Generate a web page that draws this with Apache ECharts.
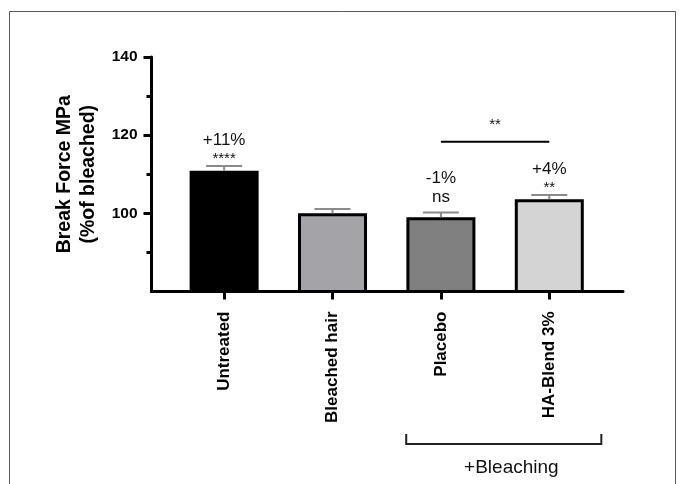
<!DOCTYPE html>
<html>
<head>
<meta charset="utf-8">
<script src="https://cdn.jsdelivr.net/npm/echarts@6/dist/echarts.min.js"></script>
<style>
html,body{margin:0;padding:0;background:#fff;}
#chart{width:683px;height:484px;}
</style>
</head>
<body>
<div id="chart"></div>
<script>
// ---- data ----
const categories = ['Untreated', 'Bleached hair', 'Placebo', 'HA-Blend 3%'];
const means = [110.9, 100.0, 99.0, 103.6];
const errors = [1.2, 1.1, 1.2, 1.1];
const barColors = ['#000000', '#a3a3a8', '#808080', '#d4d4d4'];
const changeLabels = ['+11%', '', '-1%', '+4%'];
const sigLabels = ['****', '', 'ns', '**'];
const yTickValues = [100, 120, 140];
const comparisonPair = [2, 3];
const comparisonLevel = 118.3;
const comparisonLabel = '**';
const groupSpan = [1.68, 3.48];
const groupLabelAt = 2.65;
const groupLabel = '+Bleaching';
const yTitle = 'Break Force MPa\n(%of bleached)';

const FONT = '"Liberation Sans", Arial, sans-serif';
const chart = echarts.init(document.getElementById('chart'));

const option = {
  animation: false,
  graphic: [{
    type: 'rect', silent: true,
    shape: { x: 9.5, y: 11.5, width: 666, height: 490 },
    style: { fill: 'none', stroke: '#5a5a5a', lineWidth: 1 }
  }],
  grid: { left: 151.5, right: 60, top: 57, bottom: 192.5 },
  xAxis: {
    type: 'value', min: -0.67, max: 3.68,
    splitLine: { show: false },
    axisLine: { show: true, onZero: false, lineStyle: { color: '#000', width: 3 } },
    axisTick: { show: true, customValues: [0, 1, 2, 3], length: 8, lineStyle: { color: '#000', width: 3 } },
    axisLabel: {
      customValues: [0, 1, 2, 3],
      formatter: v => categories[Math.round(v)],
      rotate: 90, margin: 20, fontSize: 17, fontWeight: 'bold', color: '#000', fontFamily: FONT
    }
  },
  yAxis: {
    type: 'value', min: 80, max: 140, interval: 20,
    splitLine: { show: false },
    axisLine: { show: true, onZero: false, lineStyle: { color: '#000', width: 3 } },
    axisTick: { show: true, customValues: yTickValues, length: 8, lineStyle: { color: '#000', width: 3 } },
    minorTick: { show: true, splitNumber: 2, length: 5, lineStyle: { color: '#000', width: 3 } },
    axisLabel: { customValues: yTickValues, margin: 14, fontSize: 15.5, fontWeight: 'bold', color: '#000', fontFamily: FONT },
    name: yTitle, nameLocation: 'middle', nameGap: 44, nameRotate: 90,
    nameTextStyle: { fontSize: 19.5, fontWeight: 'bold', color: '#000', lineHeight: 24, fontFamily: FONT }
  },
  series: [
    {
      type: 'bar',
      barWidth: 69,
      data: means.map((m, i) => ({ value: [i, m], itemStyle: { color: barColors[i] } })),
      itemStyle: { borderColor: '#000', borderWidth: 3 },
      z: 2
    },
    {
      type: 'custom', clip: false, z: 3,
      data: means.map((m, i) => [i, m, errors[i]]),
      renderItem: (params, api) => {
        const x = api.value(0), m = api.value(1), e = api.value(2);
        const p0 = api.coord([x, m]);
        const p1 = api.coord([x, m + e]);
        const half = 18;
        return {
          type: 'group',
          children: [
            { type: 'line', shape: { x1: p0[0], y1: p0[1], x2: p1[0], y2: p1[1] }, style: { stroke: '#8a8a8a', lineWidth: 2 } },
            { type: 'line', shape: { x1: p1[0] - half, y1: p1[1], x2: p1[0] + half, y2: p1[1] }, style: { stroke: '#8a8a8a', lineWidth: 2 } }
          ]
        };
      }
    },
    {
      type: 'custom', clip: false, z: 4,
      data: means.map((m, i) => [i, m + errors[i]]),
      renderItem: (params, api) => {
        const i = params.dataIndex;
        const p = api.coord([api.value(0), api.value(1)]);
        const sig = sigLabels[i], pct = changeLabels[i];
        const children = [];
        if (!sig && !pct) return { type: 'group', children };
        const isNs = sig === 'ns';
        if (sig) {
          children.push({
            type: 'text', x: p[0], y: p[1] - (isNs ? 15.5 : 6.7),
            style: { text: sig, fill: '#111', font: (isNs ? '17px ' : '15px ') + FONT, align: 'center', verticalAlign: 'middle' }
          });
        }
        if (pct) {
          children.push({
            type: 'text', x: p[0], y: p[1] - (isNs ? 34 : 26),
            style: { text: pct, fill: '#111', font: '17px ' + FONT, align: 'center', verticalAlign: 'middle' }
          });
        }
        return { type: 'group', children };
      }
    },
    {
      type: 'custom', clip: false, z: 4,
      data: [[comparisonPair[0], comparisonPair[1], comparisonLevel]],
      renderItem: (params, api) => {
        const a = api.coord([api.value(0), api.value(2)]);
        const b = api.coord([api.value(1), api.value(2)]);
        return {
          type: 'group',
          children: [
            { type: 'line', shape: { x1: a[0], y1: a[1], x2: b[0], y2: b[1] }, style: { stroke: '#000', lineWidth: 2 } },
            { type: 'text', x: (a[0] + b[0]) / 2, y: a[1] - 16.5,
              style: { text: comparisonLabel, fill: '#111', font: '15px ' + FONT, align: 'center', verticalAlign: 'middle' } }
          ]
        };
      }
    },
    {
      type: 'custom', clip: false, z: 4,
      data: [[groupSpan[0], groupSpan[1], groupLabelAt]],
      renderItem: (params, api) => {
        const a = api.coord([api.value(0), 80]);
        const b = api.coord([api.value(1), 80]);
        const t = api.coord([api.value(2), 80]);
        const y = a[1] + 152.5;
        return {
          type: 'group',
          children: [
            { type: 'polyline', shape: { points: [[a[0], y - 10], [a[0], y], [b[0], y], [b[0], y - 10]] },
              style: { stroke: '#222', lineWidth: 2, fill: 'none' } },
            { type: 'text', x: t[0], y: y + 24,
              style: { text: groupLabel, fill: '#111', font: '19px ' + FONT, align: 'center', verticalAlign: 'middle' } }
          ]
        };
      }
    }
  ]
};
chart.setOption(option);
</script>
</body>
</html>
